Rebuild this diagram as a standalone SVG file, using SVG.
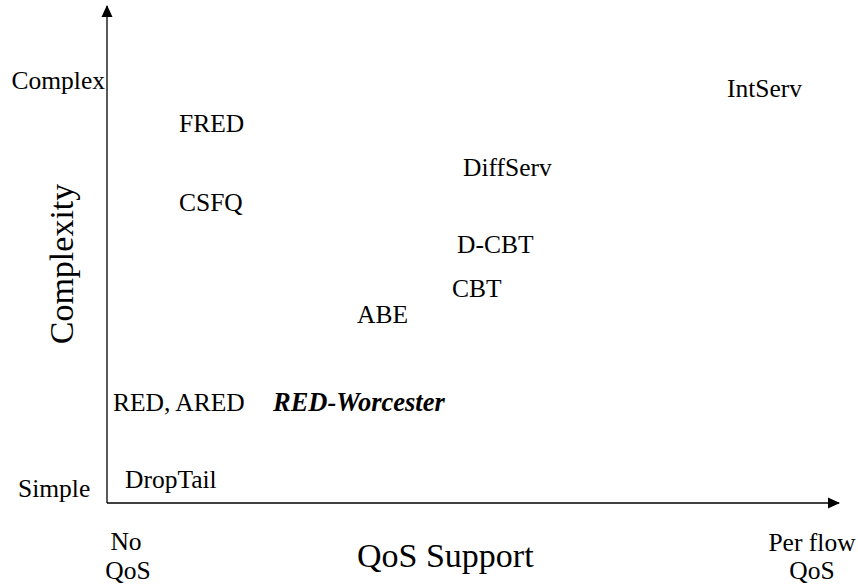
<svg xmlns="http://www.w3.org/2000/svg" width="858" height="586" viewBox="0 0 858 586">
<style>
  text { font-family: "Liberation Serif", "Times New Roman", serif; fill: #000; }
  .lbl { font-size: 25.5px; }
  .big { font-size: 34px; }
  .em { font-weight: bold; font-style: italic; font-size: 26.5px; }
  .mid { text-anchor: middle; }
  .end { text-anchor: end; }
  .axis { stroke: #000; stroke-width: 1.3; fill: none; }
</style>
<defs>
  <marker id="arrow" viewBox="0 0 12 12" refX="11" refY="6" markerWidth="12" markerHeight="12" markerUnits="userSpaceOnUse" orient="auto">
    <path d="M0,0.5 L12,6 L0,11.5 Z" fill="#000"/>
  </marker>
</defs>
<rect width="858" height="586" fill="#fff"/>
<g id="connectors">
  <path id="y-axis" class="axis" d="M107,503 L107,6" marker-end="url(#arrow)"/>
  <path id="x-axis" class="axis" d="M107,503 L839,503" marker-end="url(#arrow)"/>
</g>
<g id="axis-labels">
  <text id="complexity-title" class="big mid" transform="translate(73,264) rotate(-90)">Complexity</text>
  <text id="qos-title" class="big" x="357" y="567">QoS Support</text>
  <text id="tick-complex" class="lbl end" x="105" y="89">Complex</text>
  <text id="tick-simple" class="lbl" x="18" y="497">Simple</text>
  <g id="tick-noqos" class="lbl mid">
    <text x="126" y="550">No</text>
    <text x="128" y="579">QoS</text>
  </g>
  <g id="tick-perflow" class="lbl mid">
    <text x="812" y="551">Per flow</text>
    <text x="812" y="579">QoS</text>
  </g>
</g>
<g id="node-fred"><text class="lbl" x="179" y="132">FRED</text></g>
<g id="node-csfq"><text class="lbl" x="179" y="211">CSFQ</text></g>
<g id="node-intserv"><text class="lbl" x="727" y="97">IntServ</text></g>
<g id="node-diffserv"><text class="lbl" x="463" y="176">DiffServ</text></g>
<g id="node-dcbt"><text class="lbl" x="457" y="253">D-CBT</text></g>
<g id="node-cbt"><text class="lbl" x="452" y="297">CBT</text></g>
<g id="node-abe"><text class="lbl" x="357" y="323">ABE</text></g>
<g id="node-red-ared"><text class="lbl" x="113" y="411">RED, ARED</text></g>
<g id="node-red-worcester"><text class="lbl em" x="273" y="411">RED-Worcester</text></g>
<g id="node-droptail"><text class="lbl" x="125" y="488">DropTail</text></g>
</svg>
